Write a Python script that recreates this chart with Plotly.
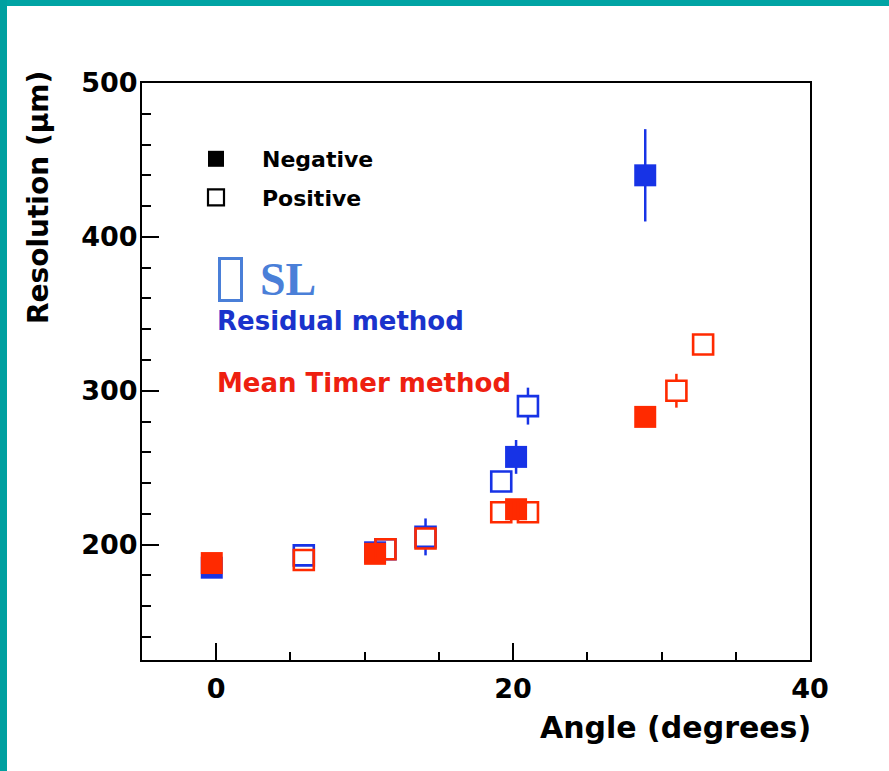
import plotly.graph_objects as go

# ---- data ----
res_neg_x = [-0.3, 10.7, 20.2, 28.9]
res_neg_y = [185, 195, 257, 440]
res_neg_err = [0, 0, 11, 30]

res_pos_x = [5.9, 11.4, 14.1, 19.2, 21.0]
res_pos_y = [193, 197, 205, 241, 290]
res_pos_err = [0, 0, 12, 0, 12]

mt_neg_x = [-0.3, 10.7, 20.2, 28.9]
mt_neg_y = [188, 194, 223, 283]
mt_neg_err = [0, 0, 0, 0]

mt_pos_x = [5.9, 11.4, 14.1, 19.2, 21.0, 31.0, 32.8]
mt_pos_y = [190, 197, 204, 221, 221, 300, 330]
mt_pos_err = [0, 0, 0, 0, 0, 11, 0]

x_range = [-5, 40]
y_range = [125, 500]
x_ticks = [0, 20, 40]
y_ticks = [200, 300, 400, 500]

BLUE = "#1733e6"
RED = "#ff2a00"
FONT = "DejaVu Sans"

W, H = 889, 771
ML, MR, MT, MB = 142, 79, 83, 111
PW, PH = W - ML - MR, H - MT - MB


def px(xp):
    return (xp - ML) / PW


def py(yp):
    return 1 - (yp - MT) / PH


fig = go.Figure()


def add_series(x, y, err, color, filled):
    if filled:
        marker = dict(symbol="square", size=22, color=color, line=dict(width=0))
    else:
        fills = ["white" if e > 0 else "rgba(255,255,255,0)" for e in err]
        marker = dict(symbol="square", size=20, color=fills,
                      line=dict(width=2.6, color=color))
    fig.add_trace(go.Scatter(
        x=x, y=y, mode="markers", marker=marker, showlegend=False,
        error_y=dict(type="data", array=err, visible=True, width=0,
                     thickness=2.5, color=color),
        cliponaxis=False,
    ))


add_series(res_neg_x, res_neg_y, res_neg_err, BLUE, True)
add_series(res_pos_x, res_pos_y, res_pos_err, BLUE, False)
add_series(mt_neg_x, mt_neg_y, mt_neg_err, RED, True)
add_series(mt_pos_x, mt_pos_y, mt_pos_err, RED, False)

# legend entries
fig.add_trace(go.Scatter(x=[None], y=[None], mode="markers", name="Negative",
                         marker=dict(symbol="square", size=18, color="black",
                                     line=dict(width=0)),
                         legendgroup="a"))
fig.add_trace(go.Scatter(x=[None], y=[None], mode="markers", name="Positive",
                         marker=dict(symbol="square-open", size=16, color="black",
                                     line=dict(width=2.2, color="black")),
                         legendgroup="b"))

axis_common = dict(
    showline=True, linewidth=2, linecolor="black", mirror=True,
    ticks="inside", ticklen=17, tickwidth=2, tickcolor="black",
    showgrid=False, zeroline=False,
    tickfont=dict(family=FONT, size=27, color="black", weight="bold"),
)

fig.update_xaxes(range=x_range, tickvals=x_ticks,
                 minor=dict(ticks="inside", ticklen=8, tickwidth=2,
                            tickcolor="black", dtick=5, tick0=0),
                 ticklabelstandoff=4, **axis_common)
fig.update_yaxes(range=y_range, tickvals=y_ticks,
                 minor=dict(ticks="inside", ticklen=9, tickwidth=2,
                            tickcolor="black", dtick=20, tick0=0),
                 ticklabelstandoff=-3, **axis_common)

annotations = [
    dict(text="Resolution (μm)", x=px(38), y=py(198), textangle=-90,
         font=dict(family=FONT, size=28, color="black", weight="bold")),
    dict(text="Angle (degrees)", x=px(813), y=py(727), xanchor="right",
         font=dict(family=FONT, size=30, color="black", weight="bold")),
    dict(text="SL", x=px(258), y=py(279), xanchor="left",
         font=dict(family="Liberation Serif", size=46, color="#4a7fd8",
                   weight="bold")),
    dict(text="Residual method", x=px(215), y=py(321), xanchor="left",
         font=dict(family=FONT, size=26, color="#1a33cc", weight="bold")),
    dict(text="Mean Timer method", x=px(215), y=py(383), xanchor="left",
         font=dict(family=FONT, size=26, color="#ee2010", weight="bold")),
]
for a in annotations:
    a.update(xref="paper", yref="paper", showarrow=False,
             yanchor=a.get("yanchor", "middle"),
             xanchor=a.get("xanchor", "center"))

shapes = [
    # box glyph next to "SL"
    dict(type="rect", xref="paper", yref="paper",
         x0=px(219.5), x1=px(241.5), y0=py(258.5), y1=py(300.5),
         line=dict(color="#4a7fd8", width=3)),
    # teal frame of the slide
    dict(type="rect", xref="paper", yref="paper",
         x0=px(0), x1=px(W), y0=py(0), y1=py(6),
         line=dict(width=0), fillcolor="#00a4a4"),
    dict(type="rect", xref="paper", yref="paper",
         x0=px(0), x1=px(7), y0=py(0), y1=py(H),
         line=dict(width=0), fillcolor="#00a0a0"),
]

fig.update_layout(
    width=W, height=H,
    margin=dict(l=ML, r=MR, t=MT, b=MB),
    paper_bgcolor="white", plot_bgcolor="white",
    annotations=annotations, shapes=shapes,
    legend=dict(x=px(170), y=py(138), xanchor="left", yanchor="top",
                bgcolor="rgba(0,0,0,0)", tracegroupgap=7, itemwidth=82,
                font=dict(family=FONT, size=22, color="black", weight="bold"),
                itemsizing="trace"),
)

fig.write_html("out.html")
